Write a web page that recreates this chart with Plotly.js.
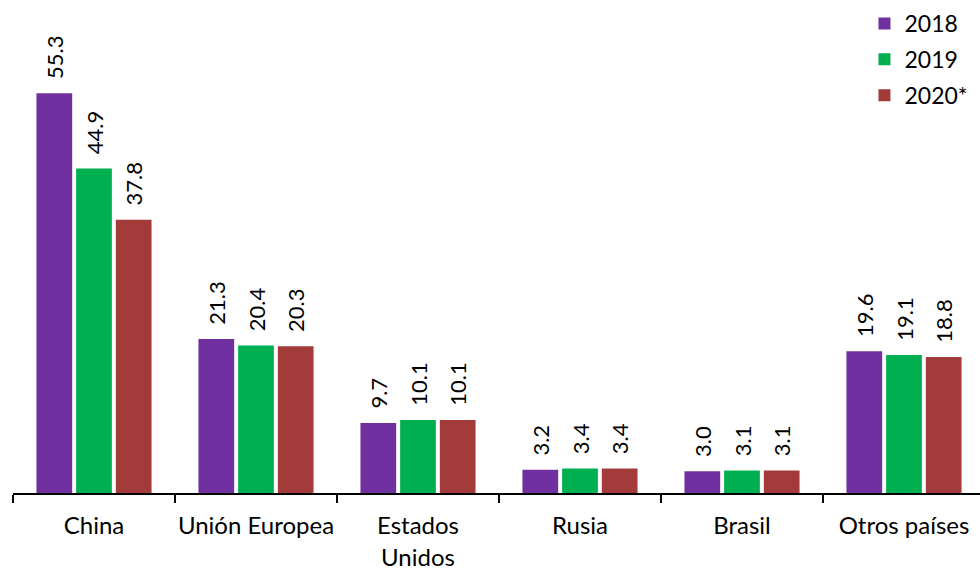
<!DOCTYPE html>
<html>
<head>
<meta charset="utf-8">
<script src="https://cdn.plot.ly/plotly-3.0.1.min.js"></script>
<style>
  html, body { margin: 0; padding: 0; background: #fff; overflow: hidden; }
  #chart { width: 985px; height: 570px; }
</style>
</head>
<body>
<div id="chart"></div>
<script>
// Regions and yearly values (millions of tonnes)
const regiones = ["China", "Unión Europea", "Estados<br>Unidos", "Rusia", "Brasil", "Otros países"];
const anios = ["2018", "2019", "2020*"];
const valores2018 = [55.3, 21.3, 9.7, 3.2, 3.0, 19.6];
const valores2019 = [44.9, 20.4, 10.1, 3.4, 3.1, 19.1];
const valores2020 = [37.8, 20.3, 10.1, 3.4, 3.1, 18.8];
const colores = ["#7030A0", "#00B050", "#A23B3A"];

const series = [valores2018, valores2019, valores2020];
const fontFamily = "Lato, 'Open Sans', sans-serif";
// non-breaking spaces keep the rotated value labels clear of the bar tops
const sep = "\u00a0\u00a0";

const data = series.map((vals, i) => ({
  type: "bar",
  name: anios[i],
  legendgroup: anios[i],
  x: regiones,
  y: vals,
  marker: { color: colores[i] },
  text: vals.map(v => sep + v.toFixed(1)),
  textposition: "outside",
  textangle: -90,
  constraintext: "none",
  cliponaxis: false,
  textfont: { family: fontFamily, size: 22, color: "#000" },
  hoverinfo: "x+y+name"
}));

const layout = {
  width: 985,
  height: 570,
  margin: { l: 13, r: 0, t: 0, b: 77, autoexpand: false },
  paper_bgcolor: "#fff",
  plot_bgcolor: "#fff",
  barmode: "group",
  bargap: 0.265,
  bargroupgap: 0.1,
  showlegend: true,
  legend: {
    x: 0.876, xanchor: "left",
    y: 0.996, yanchor: "top",
    traceorder: "grouped",
    tracegroupgap: 3,
    font: { family: fontFamily, size: 23, color: "#000" },
    bgcolor: "rgba(0,0,0,0)"
  },
  xaxis: {
    type: "category",
    automargin: false,
    tickangle: 0,
    showline: true,
    linecolor: "#000",
    linewidth: 1.5,
    ticks: "outside",
    tickson: "boundaries",
    ticklen: 8,
    tickcolor: "#000",
    tickwidth: 1.5,
    showgrid: false,
    ticklabelstandoff: 11,
    tickfont: { family: fontFamily, size: 24, color: "#000" }
  },
  yaxis: {
    range: [0, 68.2],
    visible: false,
    showgrid: false,
    zeroline: false
  },
  font: { family: fontFamily }
};

Plotly.newPlot("chart", data, layout, { displayModeBar: false, staticPlot: true });
</script>
</body>
</html>
